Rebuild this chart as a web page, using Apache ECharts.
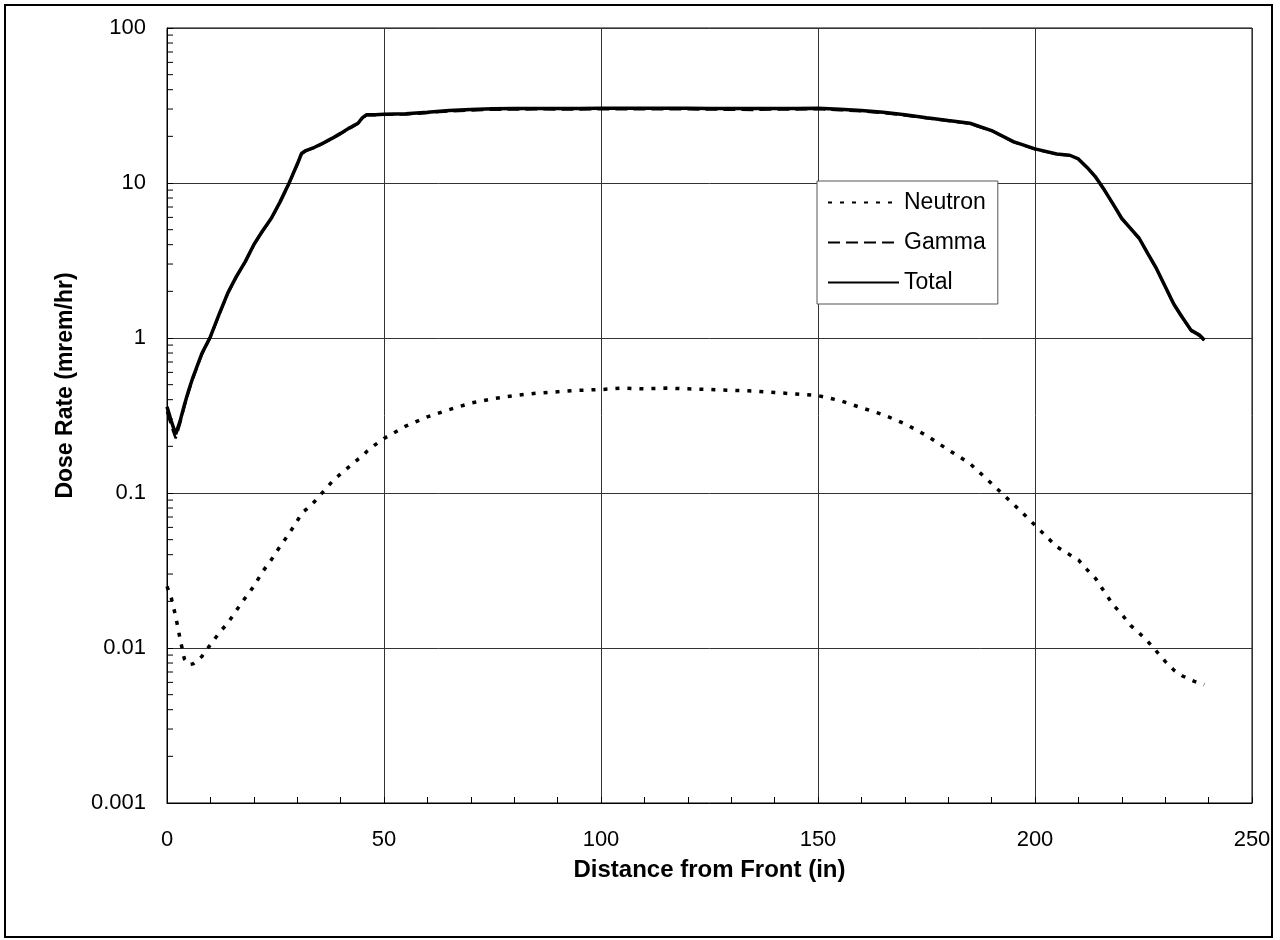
<!DOCTYPE html>
<html>
<head>
<meta charset="utf-8">
<script src="https://cdn.jsdelivr.net/npm/echarts@6/dist/echarts.min.js"></script>
<style>
html,body{margin:0;padding:0;background:#fff;}
#chart{width:1280px;height:940px;}
</style>
</head>
<body>
<div id="chart"></div>
<script>
// ---- data ----
const distance = [0,1,2,3,4,5,6,8,10,12,14,16,18,20,22,24,26,28,30,31,32,34,36,38,40,42,44,45,46,48,50,55,60,65,70,75,80,85,90,95,100,105,110,115,120,125,130,135,140,145,150,155,160,165,170,175,180,185,190,195,200,205,208,210,212,214,216,218,220,222,224,226,228,230,232,234,236,238,239];
const neutron = [0.025,0.021,0.016,0.0115,0.0085,0.0078,0.0079,0.0088,0.0105,0.0125,0.0145,0.0175,0.021,0.025,0.031,0.037,0.045,0.054,0.066,0.074,0.078,0.088,0.102,0.118,0.133,0.148,0.165,0.172,0.185,0.205,0.225,0.27,0.31,0.345,0.38,0.405,0.425,0.44,0.45,0.46,0.465,0.475,0.47,0.475,0.47,0.465,0.46,0.455,0.445,0.435,0.425,0.395,0.355,0.32,0.28,0.235,0.19,0.155,0.115,0.085,0.062,0.045,0.04,0.037,0.032,0.028,0.023,0.019,0.0165,0.014,0.0125,0.011,0.0095,0.0082,0.0072,0.0066,0.0062,0.0059,0.0058];
const gamma = [0.335,0.27,0.225,0.28,0.36,0.45,0.55,0.78,1.01,1.41,1.93,2.48,3.08,3.97,4.87,5.86,7.45,9.74,13.1,15.4,16.1,16.9,18.0,19.3,20.7,22.4,24.1,26.1,27.4,27.4,27.6,27.7,28.3,29.0,29.4,29.7,29.8,29.9,29.8,29.8,29.9,29.9,29.9,29.9,29.9,29.8,29.7,29.6,29.8,29.8,30.0,29.5,29.0,28.3,27.3,26.2,25.1,24.1,21.7,18.4,16.5,15.35,15.05,14.25,12.55,10.85,8.98,7.28,5.88,5.09,4.39,3.49,2.79,2.14,1.64,1.34,1.11,1.03,0.965];
const total = [0.36,0.29,0.24,0.29,0.37,0.46,0.56,0.79,1.02,1.42,1.95,2.5,3.1,4.0,4.9,5.9,7.5,9.8,13.2,15.5,16.2,17.0,18.1,19.4,20.9,22.6,24.3,26.3,27.6,27.6,27.8,28.0,28.6,29.4,29.8,30.1,30.2,30.3,30.3,30.3,30.4,30.4,30.4,30.4,30.4,30.3,30.3,30.2,30.3,30.3,30.4,29.9,29.4,28.6,27.6,26.4,25.3,24.3,21.8,18.5,16.6,15.4,15.1,14.3,12.6,10.9,9.0,7.3,5.9,5.1,4.4,3.5,2.8,2.15,1.65,1.35,1.12,1.04,0.97];
const seriesNames = ['Neutron','Gamma','Total'];
const yTickLabels = ['0.001','0.01','0.1','1','10','100'];
const xTickLabels = ['0','50','100','150','200','250'];
const yDecades = [-3,-2,-1,0,1];
const yMinorMultipliers = [2,3,4,5,6,7,8,9];

const FONT = "'Liberation Sans', Arial, sans-serif";
const zip = (xs, ys) => xs.map((x, i) => [x, ys[i]]);
const yMinorTicks = [];
yDecades.forEach(d => yMinorMultipliers.forEach(m => yMinorTicks.push([0, m * Math.pow(10, d)])));

const chart = echarts.init(document.getElementById('chart'), null, {renderer: 'canvas'});
chart.setOption({
  animation: false,
  backgroundColor: '#fff',
  textStyle: {fontFamily: FONT},
  graphic: [{
    type: 'rect', silent: true, z: 100,
    shape: {x: 5, y: 5, width: 1267, height: 932},
    style: {fill: 'none', stroke: '#000', lineWidth: 2}
  }],
  grid: {left: 167, right: 28, top: 28, bottom: 137, show: true, borderColor: '#000', borderWidth: 1, containLabel: false},
  legend: {
    data: seriesNames,
    orient: 'vertical',
    left: 817, top: 181,
    itemWidth: 71, itemHeight: 14, itemGap: 17,
    padding: [10, 12, 10, 10],
    backgroundColor: '#fff',
    borderColor: '#555', borderWidth: 1,
    selectedMode: false,
    itemStyle: {opacity: 0},
    textStyle: {fontSize: 23, color: '#000', fontFamily: FONT}
  },
  xAxis: {
    type: 'value', min: 0, max: 250, interval: 50,
    name: 'Distance from Front (in)', nameLocation: 'middle', nameGap: 55,
    nameTextStyle: {fontSize: 24, fontWeight: 'bold', color: '#000', fontFamily: FONT},
    axisLine: {show: true, lineStyle: {color: '#000', width: 1}},
    axisTick: {show: true, inside: true, length: 6, lineStyle: {color: '#000'}},
    minorTick: {show: true, splitNumber: 5, length: 6, lineStyle: {color: '#000', width: 1}},
    axisLabel: {fontSize: 22, color: '#000', margin: 26, fontFamily: FONT,
      formatter: v => xTickLabels[Math.round(v / 50)]},
    splitLine: {show: true, lineStyle: {color: '#333', width: 1}}
  },
  yAxis: {
    type: 'log', logBase: 10, min: 0.001, max: 100,
    name: 'Dose Rate (mrem/hr)', nameLocation: 'middle', nameGap: 90,
    nameTextStyle: {fontSize: 23, fontWeight: 'bold', color: '#000', fontFamily: FONT, padding: [0, 0, 0, 60]},
    axisLine: {show: true, lineStyle: {color: '#000', width: 1}},
    axisTick: {show: true, inside: true, length: 6, lineStyle: {color: '#000'}},
    axisLabel: {fontSize: 22, color: '#000', margin: 21, fontFamily: FONT,
      formatter: v => yTickLabels[Math.round(Math.log10(v)) + 3]},
    splitLine: {show: true, lineStyle: {color: '#333', width: 1}}
  },
  series: [
    {
      name: 'Neutron', type: 'line', data: zip(distance, neutron), symbol: 'none', showSymbol: false,
      lineStyle: {color: '#000', width: 3.5, type: [4, 8]}, itemStyle: {color: '#000'}, z: 3
    },
    {
      name: 'Gamma', type: 'line', data: zip(distance, gamma), symbol: 'none', showSymbol: false,
      lineStyle: {color: '#000', width: 2.5, type: [12, 6]}, itemStyle: {color: '#000'}, z: 4
    },
    {
      name: 'Total', type: 'line', data: zip(distance, total), symbol: 'none', showSymbol: false,
      lineStyle: {color: '#000', width: 3.5}, itemStyle: {color: '#000'}, z: 5
    },
    {
      name: 'yMinor', type: 'custom', silent: true, z: 2,
      data: yMinorTicks,
      renderItem: (params, api) => {
        const p = api.coord([api.value(0), api.value(1)]);
        return {type: 'line', shape: {x1: p[0], y1: p[1], x2: p[0] + 6, y2: p[1]},
          style: {stroke: '#000', lineWidth: 1}};
      }
    }
  ]
});
</script>
</body>
</html>
